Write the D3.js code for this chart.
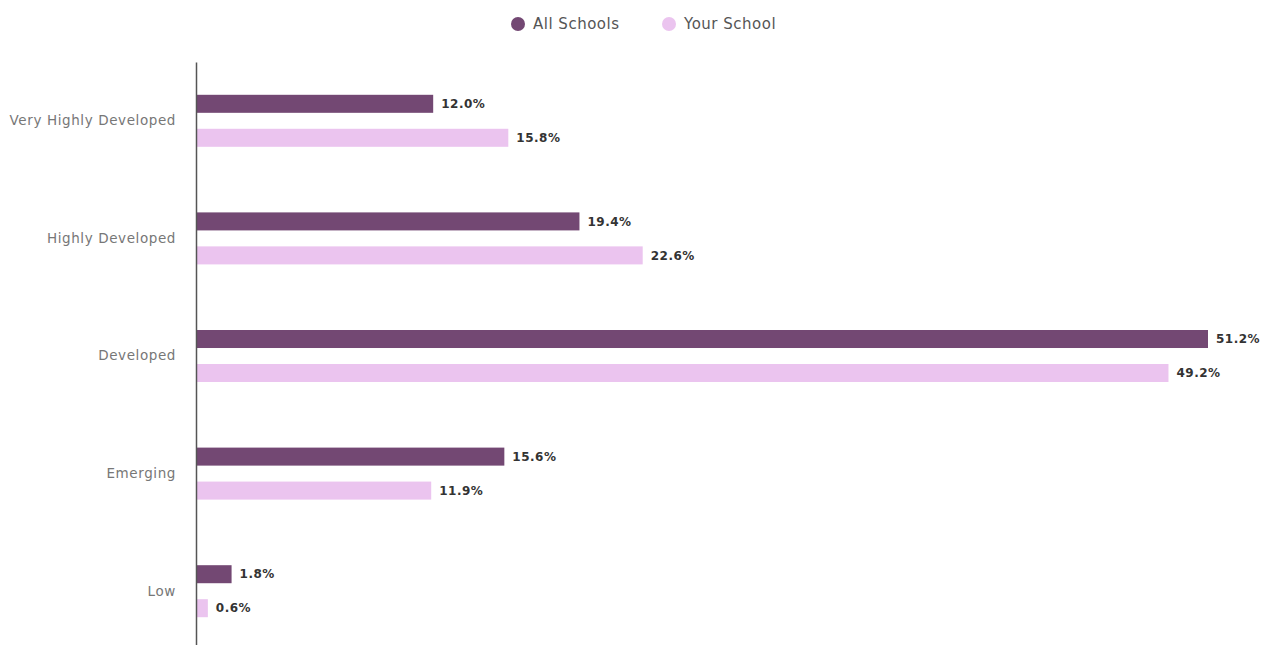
<!DOCTYPE html>
<html>
<head>
<meta charset="utf-8">
<script src="https://d3js.org/d3.v7.min.js"></script>
<style>
  body { margin: 0; background: #fff; }
  text { font-family: "DejaVu Sans", sans-serif; }
</style>
</head>
<body>
<div id="chartContainer"></div>
<script>
// categories top to bottom
var categories = ["Very Highly Developed", "Highly Developed", "Developed", "Emerging", "Low"];
var seriesNames = ["All Schools", "Your School"];
var allSchools = [12.0, 19.4, 51.2, 15.6, 1.8];
var yourSchool = [15.8, 22.6, 49.2, 11.9, 0.6];
var colors = ["#734873", "#ebc4ef"];

var width = 1267, height = 645;
var svg = d3.select("#chartContainer").append("svg")
  .attr("width", width).attr("height", height);

var x = d3.scaleLinear().domain([0, 51.2]).range([196, 1208]);
var y = d3.scaleBand().domain(categories).range([62, 650]);
var sub = d3.scaleBand().domain(seriesNames).range([-26, 26]).paddingInner(0.47);

var rows = [];
categories.forEach(function (c, i) {
  rows.push({ cat: c, series: seriesNames[0], v: allSchools[i] });
  rows.push({ cat: c, series: seriesNames[1], v: yourSchool[i] });
});

// bars
svg.selectAll("rect.bar").data(rows).enter().append("rect")
  .attr("class", "bar")
  .attr("x", x(0))
  .attr("y", function (d) { return y(d.cat) + y.bandwidth() / 2 + sub(d.series); })
  .attr("width", function (d) { return x(d.v) - x(0); })
  .attr("height", sub.bandwidth())
  .attr("fill", function (d) { return colors[seriesNames.indexOf(d.series)]; });

// value labels
svg.selectAll("text.val").data(rows).enter().append("text")
  .attr("class", "val")
  .attr("x", function (d) { return x(d.v) + 8; })
  .attr("y", function (d) { return y(d.cat) + y.bandwidth() / 2 + sub(d.series) + sub.bandwidth() / 2; })
  .attr("dy", "0.35em")
  .style("font-size", "12px")
  .style("font-weight", "bold")
  .style("letter-spacing", "0.5px")
  .style("fill", "#333")
  .text(function (d) { return d.v.toFixed(1) + "%"; });

// y axis
var yAxis = d3.axisLeft(y).tickSize(0).tickPadding(20);
var g = svg.append("g").attr("transform", "translate(196,0)").call(yAxis);
g.select(".domain").attr("stroke", "#555").attr("stroke-width", 1.5);
g.selectAll("text").style("font-size", "13.5px").style("fill", "#777")
  .style("letter-spacing", "0.6px")
  .style("font-family", "\"DejaVu Sans\", sans-serif");

// legend
var legend = svg.append("g").attr("transform", "translate(0,24)");
var lx = [518, 669];
seriesNames.forEach(function (s, i) {
  legend.append("circle").attr("cx", lx[i]).attr("cy", 0).attr("r", 7).attr("fill", colors[i]);
  legend.append("text").attr("x", lx[i] + 15).attr("y", 0).attr("dy", "0.35em")
    .style("font-size", "15px").style("letter-spacing", "0.5px")
    .style("fill", "#555").text(s);
});
</script>
</body>
</html>
